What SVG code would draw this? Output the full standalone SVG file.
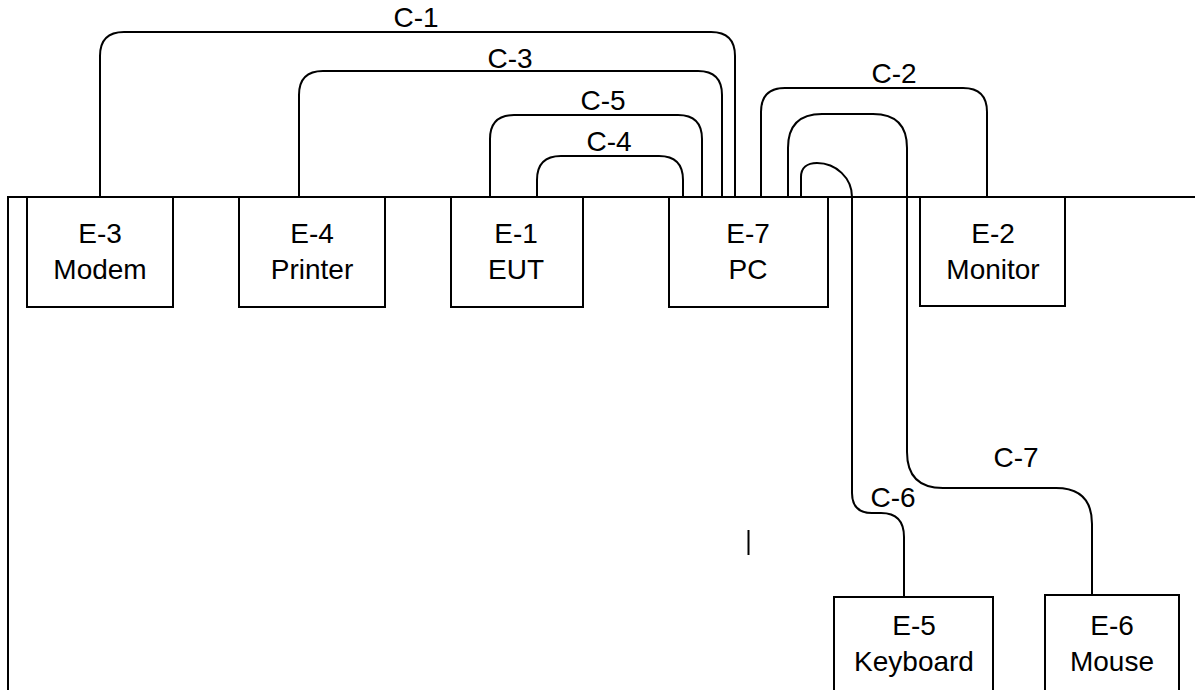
<svg xmlns="http://www.w3.org/2000/svg" width="1195" height="690" viewBox="0 0 1195 690">
<style>
.box{fill:#fff;stroke:#000;stroke-width:2}
.ln{fill:none;stroke:#000;stroke-width:2}
.t{font-family:"Liberation Sans",Arial,sans-serif;font-size:28px;fill:#000;text-anchor:middle}
</style>
<rect width="1195" height="690" fill="#fff"/>
<g id="frame">
<path class="ln" d="M8,690 V197 H1195"/>
</g>
<g id="connectors">
<path id="c1" class="ln" d="M100,197 V56 Q100,32 124,32 H711 Q735,32 735,56 V197"/>
<path id="c3" class="ln" d="M299,197 V95 Q299,71 323,71 H698 Q722,71 722,95 V197"/>
<path id="c5" class="ln" d="M490,197 V139 Q490,115 514,115 H678 Q702,115 702,139 V197"/>
<path id="c4" class="ln" d="M537,197 V180 Q537,156 561,156 H659 Q683,156 683,180 V197"/>
<path id="c2" class="ln" d="M761,197 V112 Q761,88 785,88 H963 Q987,88 987,112 V197"/>
<path id="c7" class="ln" d="M788,197 V148 Q788,114 822,114 H873 Q907,114 907,148 V452 Q907,488 943,488 H1056 Q1092,488 1092,524 V596"/>
<path id="c6" class="ln" d="M801,197 V177 C801,168 807,163 817,163 C836,163 852,178 852,197 V493 Q852,513 872,513 H881 Q904,513 904,537 V597"/>
<text class="t" x="416" y="27">C-1</text>
<text class="t" x="510" y="68">C-3</text>
<text class="t" x="603" y="110">C-5</text>
<text class="t" x="609" y="151">C-4</text>
<text class="t" x="894" y="83">C-2</text>
<text class="t" x="1016" y="467">C-7</text>
<text class="t" x="893" y="507">C-6</text>
</g>
<g id="E-3"><rect class="box" x="27" y="197" width="146" height="110"/><text class="t" x="100" y="243">E-3</text><text class="t" x="100" y="279">Modem</text></g>
<g id="E-4"><rect class="box" x="239" y="197" width="146" height="110"/><text class="t" x="312" y="243">E-4</text><text class="t" x="312" y="279">Printer</text></g>
<g id="E-1"><rect class="box" x="451" y="197" width="132" height="110"/><text class="t" x="516" y="243">E-1</text><text class="t" x="516" y="279">EUT</text></g>
<g id="E-7"><rect class="box" x="669" y="197" width="159" height="110"/><text class="t" x="748" y="243">E-7</text><text class="t" x="748" y="279">PC</text></g>
<g id="E-2"><rect class="box" x="920" y="197" width="145" height="109"/><text class="t" x="993" y="243">E-2</text><text class="t" x="993" y="279">Monitor</text></g>
<g id="E-5"><rect class="box" x="834" y="597" width="159" height="110"/><text class="t" x="914" y="635">E-5</text><text class="t" x="914" y="671">Keyboard</text></g>
<g id="E-6"><rect class="box" x="1045" y="595" width="134" height="110"/><text class="t" x="1112" y="635">E-6</text><text class="t" x="1112" y="671">Mouse</text></g>
<g id="mark"><line class="ln" x1="748.5" y1="530" x2="748.5" y2="555"/></g>
</svg>
